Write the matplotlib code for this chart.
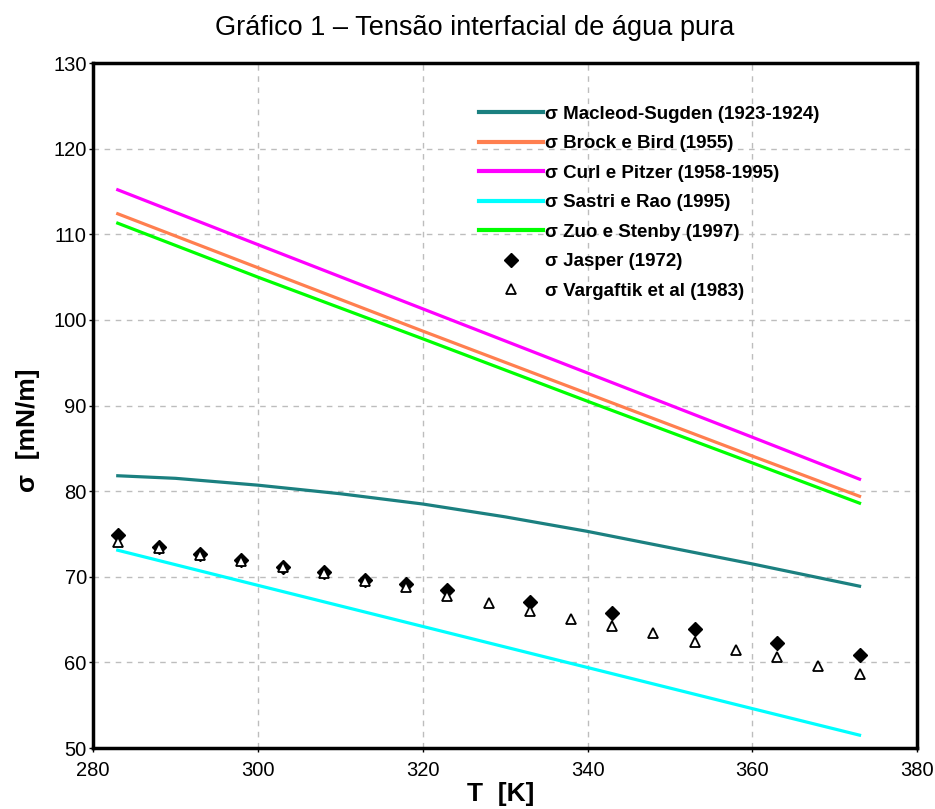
import matplotlib
matplotlib.use("Agg")
import matplotlib.pyplot as plt
import numpy as np

plt.rcParams['font.family'] = ['Liberation Sans', 'DejaVu Sans']

# model curves
T_model = [283, 300, 320, 340, 360, 373]
brock = [112.4, 106.1, 98.7, 91.4, 84.1, 79.4]
curl = [115.2, 108.8, 101.3, 93.8, 86.3, 81.4]
sastri = [73.1, 69.0, 64.2, 59.4, 54.6, 51.5]
zuo = [111.3, 105.0, 97.8, 90.5, 83.3, 78.6]
# Macleod-Sugden is curved, so more readings
T_macleod = [283, 290, 300, 310, 320, 330, 340, 350, 360, 373]
macleod = [81.8, 81.5, 80.7, 79.7, 78.5, 77.0, 75.3, 73.4, 71.5, 68.9]

# experimental points
T_jasper = [283, 288, 293, 298, 303, 308, 313, 318, 323, 333, 343, 353, 363, 373]
jasper = [74.9, 73.5, 72.7, 72.0, 71.2, 70.5, 69.6, 69.2, 68.4, 67.0, 65.8, 63.9, 62.3, 60.9]
T_varg = [283, 288, 293, 298, 303, 308, 313, 318, 323, 328, 333, 338, 343, 348, 353, 358, 363, 368, 373]
varg = [74.1, 73.4, 72.6, 71.9, 71.1, 70.4, 69.5, 68.8, 67.8, 66.9, 66.0, 65.1, 64.3, 63.4, 62.4, 61.5, 60.6, 59.6, 58.6]

labels = ['σ Macleod-Sugden (1923-1924)', 'σ Brock e Bird (1955)', 'σ Curl e Pitzer (1958-1995)',
          'σ Sastri e Rao (1995)', 'σ Zuo e Stenby (1997)', 'σ Jasper (1972)', 'σ Vargaftik et al (1983)']
colors = ['#1b8080', '#ff7f4f', '#ff00ff', '#00ffff', '#00ff00']

fig = plt.figure(figsize=(9.35, 8.09), dpi=100)
ax = fig.add_axes([0.0995, 0.0754, 0.8815, 0.8466])

ax.plot(T_macleod, macleod, color=colors[0], lw=2.3, label=labels[0])
for yy, c, lab in zip([brock, curl, sastri, zuo], colors[1:], labels[1:5]):
    ax.plot(T_model, yy, color=c, lw=2.3, label=lab)
ax.plot(T_jasper, jasper, linestyle='none', marker='D', ms=7, color='black', label=labels[5])
ax.plot(T_varg, varg, linestyle='none', marker='^', ms=6.5, mfc='white', mec='black', mew=1.3, label=labels[6])

ax.set_xlim(280, 380)
ax.set_ylim(50, 130)
ax.set_xticks(np.arange(280, 381, 20))
ax.set_yticks(np.arange(50, 131, 10))
ax.grid(True, linestyle=(0, (4, 4)), color='#bdbdbd', lw=1)
ax.tick_params(labelsize=14.5, length=3, width=1)
ax.tick_params(axis='x', pad=6)
ax.tick_params(axis='y', pad=1.5)
for s in ax.spines.values():
    s.set_linewidth(2.5)

ax.set_xlabel('T  [K]', fontsize=19, fontweight='bold')
ax.xaxis.set_label_coords(0.4945, -0.0496)
ax.set_ylabel('σ  [mN/m]', fontsize=19, fontweight='bold')
ax.yaxis.set_label_coords(-0.064, 0.464)
# title is centred on the figure, not the axes
fig.text(0.508, 1 - 35 / 809, 'Gráfico 1 – Tensão interfacial de água pura', fontsize=19.5,
         ha='center', va='baseline')

leg = ax.legend(loc='upper left', bbox_to_anchor=(0.4684, 0.938), frameon=False,
                borderaxespad=0, borderpad=0,
                prop={'weight': 'bold', 'size': 13.5}, handlelength=3.4, handletextpad=0.1,
                labelspacing=0.66)
for h in leg.legend_handles[:5]:
    h.set_linewidth(3)

fig.savefig('out.png', dpi=100)
